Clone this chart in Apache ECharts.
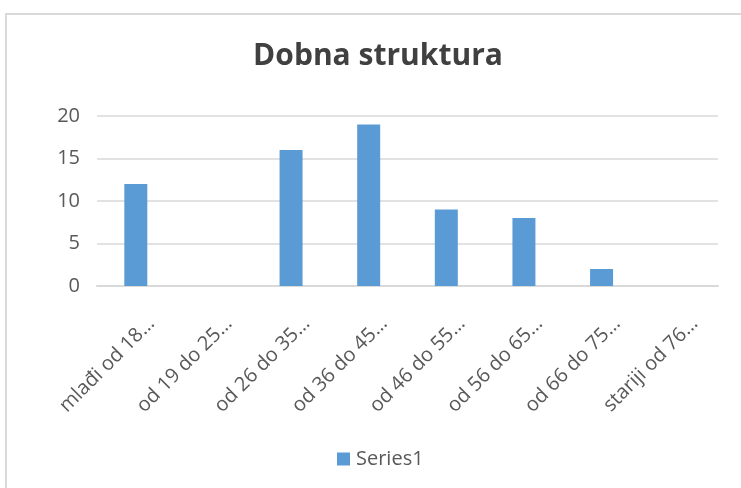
<!DOCTYPE html>
<html>
<head>
<meta charset="utf-8">
<script src="https://cdn.jsdelivr.net/npm/echarts@6/dist/echarts.min.js"></script>
<style>
html,body{margin:0;padding:0;background:#fff;}
#c{width:741px;height:488px;}
</style>
</head>
<body>
<div id="c"></div>
<script>
const title = 'Dobna struktura';
const categories = ['mlađi od 18…','od 19 do 25…','od 26 do 35…','od 36 do 45…','od 46 do 55…','od 56 do 65…','od 66 do 75…','stariji od 76…'];
const seriesName = 'Series1';
const values = [12, 0, 16, 19, 9, 8, 2, 0];
const yTicks = {min: 0, max: 20, interval: 5};

const chart = echarts.init(document.getElementById('c'), null, {renderer: 'canvas'});
const font = '"Open Sans", sans-serif';
chart.setOption({
  animation: false,
  graphic: [{
    type: 'rect', shape: {x: 6, y: 14, width: 800, height: 600},
    style: {fill: 'none', stroke: '#d9d9d9', lineWidth: 2}, silent: true, z: -1
  }, {
    type: 'text', x: 378, y: 56,
    style: {text: title, align: 'center', verticalAlign: 'middle',
      font: 'bold 30px "Open Sans", sans-serif', fill: '#404040'}
  }],
  legend: {
    data: [seriesName], top: 444, left: 332,
    itemWidth: 13, itemHeight: 13, icon: 'rect', itemGap: 8,
    textStyle: {fontFamily: font, fontSize: 20, color: '#595959', padding: [0,0,0,1]}
  },
  grid: {left: 97, right: 23, top: 116, bottom: 202, containLabel: false},
  xAxis: {
    type: 'category', data: categories,
    axisLine: {lineStyle: {color: '#d9d9d9', width: 2}},
    axisTick: {show: false},
    axisLabel: {
      rotate: 45, interval: 0, margin: 19, lineHeight: 44,
      formatter: v => '\n' + v,
      fontFamily: font, fontSize: 20, color: '#595959'
    }
  },
  yAxis: {
    type: 'value', min: yTicks.min, max: yTicks.max, interval: yTicks.interval,
    axisLine: {show: false}, axisTick: {show: false},
    splitLine: {lineStyle: {color: '#d9d9d9', width: 1.5}},
    axisLabel: {fontFamily: font, fontSize: 20, color: '#595959', margin: 17}
  },
  series: [{
    name: seriesName, type: 'bar', data: values, barWidth: 23,
    itemStyle: {color: '#5b9bd5'}
  }]
});
</script>
</body>
</html>
